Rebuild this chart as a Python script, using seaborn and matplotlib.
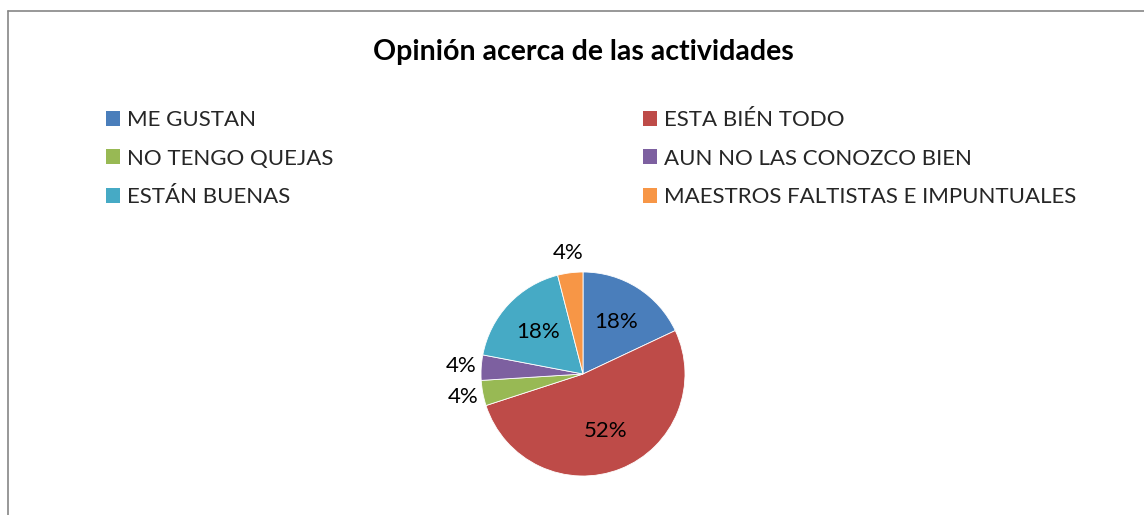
import numpy as np
import matplotlib.pyplot as plt
import seaborn as sns
from matplotlib.patches import Patch
from matplotlib.lines import Line2D

sns.set_theme(style="white")
plt.rcParams['font.family'] = ['Lato', 'DejaVu Sans']

categorias = ["ME GUSTAN", "ESTA BIÉN TODO", "NO TENGO QUEJAS",
              "AUN NO LAS CONOZCO BIEN", "ESTÁN BUENAS",
              "MAESTROS FALTISTAS E IMPUNTUALES"]
porcentajes = [18, 52, 4, 4, 18, 4]
colores = ["#4A7EBB", "#BE4B48", "#98B954", "#7D60A0", "#46AAC5", "#F79646"]
titulo = "Opinión acerca de las actividades"

W, H = 1144, 515
fig = plt.figure(figsize=(W / 100, H / 100), dpi=100)

# centro y radio del pastel en pixeles
cx, cy, r = 583, 374, 102
lim = 1.05
lado = 2 * lim * r
ax = fig.add_axes([(cx - lado / 2) / W, (H - cy - lado / 2) / H, lado / W, lado / H])

wedges, textos, autotextos = ax.pie(
    porcentajes, colors=colores, startangle=90, counterclock=False,
    autopct=lambda p: f"{p:.0f}%", pctdistance=0.6,
    wedgeprops=dict(edgecolor="white", linewidth=0.6),
    textprops=dict(fontsize=16, color="black"))
ax.set_xlim(-lim, lim)
ax.set_ylim(-lim, lim)
ax.set_aspect("equal")
ax.axis("off")

total = sum(porcentajes)
for w, t, v in zip(wedges, autotextos, porcentajes):
    if v / total < 0.1:
        ang = np.deg2rad((w.theta1 + w.theta2) / 2)
        t.set_position((1.2 * np.cos(ang), 1.2 * np.sin(ang)))

fig.text(cx / W, 1 - 52 / H, titulo, ha="center", va="center",
         fontsize=20.5, fontweight="bold", color="black")

handles = [Patch(facecolor=c, edgecolor="none") for c in colores]
kw = dict(frameon=False, fontsize=16, handlelength=0.65, handleheight=0.65,
          handletextpad=0.3, labelspacing=0.84, borderpad=0, borderaxespad=0,
          loc="upper left")
leg1 = fig.legend(handles[0::2], categorias[0::2],
                  bbox_to_anchor=(106 / W, 1 - 110 / H), **kw)
leg2 = fig.legend(handles[1::2], categorias[1::2],
                  bbox_to_anchor=(643 / W, 1 - 110 / H), **kw)

# marco del grafico (cortado a la derecha y abajo)
fig.add_artist(Line2D([8 / W, 8 / W], [0, 1 - 11 / H], color="#868686", lw=1.2))
fig.add_artist(Line2D([8 / W, 1], [1 - 11 / H, 1 - 11 / H], color="#868686", lw=1.2))

fig.savefig("out.png", dpi=100)
